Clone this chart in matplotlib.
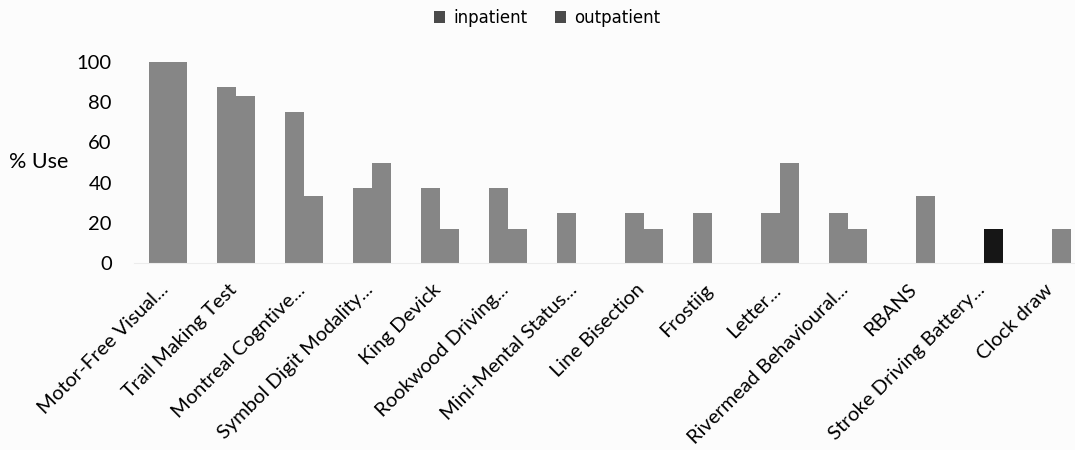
import matplotlib
matplotlib.use("Agg")
import matplotlib.pyplot as plt
import matplotlib.transforms as mtransforms
import numpy as np

plt.rcParams['font.family'] = ['Lato', 'DejaVu Sans']

tests = [
    "Motor-Free Visual...", "Trail Making Test", "Montreal Cogntive...",
    "Symbol Digit Modality...", "King Devick", "Rookwood Driving...",
    "Mini-Mental Status...", "Line Bisection", "Frostiig", "Letter...",
    "Rivermead Behavioural...", "RBANS", "Stroke Driving Battery...",
    "Clock draw",
]
inpatient = [100, 87.5, 75, 37.5, 37.5, 37.5, 25, 25, 25, 25, 25, 0, 0, 0]
outpatient = [100, 83.3, 33.3, 50, 16.7, 16.7, 0, 16.7, 0, 50, 16.7, 33.3, 16.7, 16.7]
yticks = [0, 20, 40, 60, 80, 100]

bar_grey = "#868686"
out_colors = [bar_grey] * len(tests)
out_colors[12] = "#161616"

fig = plt.figure(figsize=(10.75, 4.5), dpi=100)
fig.patch.set_facecolor("#fcfcfc")
ax = fig.add_axes([134 / 1075, 1 - 263 / 450, 1 - 134 / 1075, (263 - 62) / 450])
ax.set_facecolor("#fcfcfc")

x = np.arange(len(tests))
w = 0.28
ax.bar(x - w / 2, inpatient, w, color=bar_grey, label="inpatient", linewidth=0)
ax.bar(x + w / 2, outpatient, w, color=out_colors, label="outpatient", linewidth=0)

ax.set_xlim(-0.5, 13.34)
ax.set_ylim(0, 100)
ax.set_yticks(yticks)
ax.tick_params(axis="y", length=0, pad=16, labelsize=14.5)
ax.tick_params(axis="x", length=0, pad=13)

ax.set_xticks(x)
ax.set_xticklabels(tests, rotation=45, ha="right", fontsize=14.5)
shift = mtransforms.ScaledTranslation(4 / 100, 0, fig.dpi_scale_trans)
for lbl in ax.get_xticklabels():
    lbl.set_transform(lbl.get_transform() + shift)

for s in ["top", "right", "left"]:
    ax.spines[s].set_visible(False)
ax.spines["bottom"].set_color("#ececec")

fig.text(9 / 1075, 1 - 162 / 450, "% Use", fontsize=15.5, va="center", ha="left")

handles, labels = ax.get_legend_handles_labels()
leg = fig.legend(handles, labels, loc="center", bbox_to_anchor=(0.509, 1 - 18 / 450), ncol=2,
                 frameon=False, prop={"family": "DejaVu Sans", "size": 12},
                 handlelength=0.7, handleheight=0.7,
                 columnspacing=1.6, handletextpad=0.5)
for h in leg.legend_handles:
    h.set_color("#4a4a4a")

fig.savefig("out.png", dpi=100, facecolor=fig.get_facecolor())
